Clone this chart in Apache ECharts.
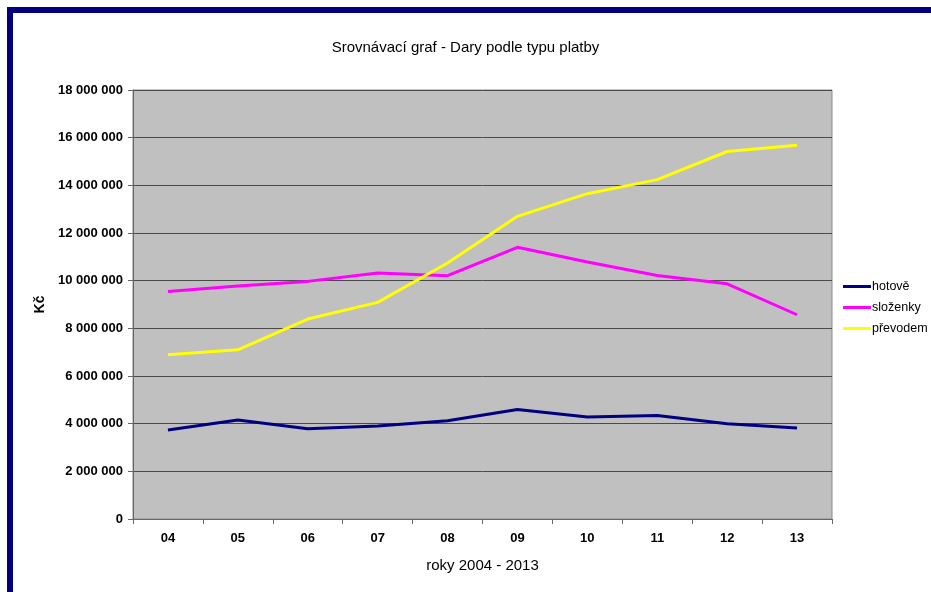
<!DOCTYPE html>
<html>
<head>
<meta charset="utf-8">
<script src="https://cdn.jsdelivr.net/npm/echarts@6/dist/echarts.min.js"></script>
<style>
html,body{margin:0;padding:0;background:#fff;}
#chart{width:931px;height:592px;}
</style>
</head>
<body>
<div id="chart"></div>
<script>
const categories = ['04','05','06','07','08','09','10','11','12','13'];
const hotove = [3730000, 4150000, 3790000, 3900000, 4120000, 4590000, 4280000, 4340000, 4000000, 3820000];
const slozenky = [9550000, 9780000, 9970000, 10320000, 10210000, 11400000, 10780000, 10220000, 9870000, 8570000];
const prevodem = [6890000, 7100000, 8390000, 9090000, 10740000, 12700000, 13650000, 14240000, 15420000, 15680000];
const seriesNames = ['hotově', 'složenky', 'převodem'];
const yTicks = { min: 0, max: 18000000, interval: 2000000 };

const font = '"Liberation Sans", Arial, sans-serif';
const chart = echarts.init(document.getElementById('chart'));
function fmt(v){ return String(v).replace(/\B(?=(\d{3})+(?!\d))/g, ' '); }

chart.setOption({
  animation: false,
  backgroundColor: '#ffffff',
  title: {
    text: 'Srovnávací graf - Dary podle typu platby',
    left: 'center', top: 35,
    textStyle: { fontFamily: font, fontSize: 15, fontWeight: 'normal', color: '#000' }
  },
  legend: {
    orient: 'vertical', left: 838, top: 275,
    icon: 'rect', itemWidth: 28, itemHeight: 3, itemGap: 8,
    data: seriesNames,
    textStyle: { fontFamily: font, fontSize: 12.5, color: '#000', padding: [0,0,0,-4] }
  },
  grid: {
    left: 133, right: 99, top: 90, bottom: 73,
    show: true, backgroundColor: '#c0c0c0', borderColor: '#8a8a8a', borderWidth: 1,
    containLabel: false
  },
  xAxis: {
    type: 'category', data: categories, boundaryGap: true,
    name: 'roky 2004 - 2013', nameLocation: 'middle', nameGap: 39,
    nameTextStyle: { fontFamily: font, fontSize: 15, color: '#000' },
    axisLine: { lineStyle: { color: '#666', width: 1 } },
    axisTick: { show: true, length: 5, lineStyle: { color: '#666' } },
    axisLabel: { fontFamily: font, fontSize: 13, fontWeight: 'bold', color: '#000', margin: 13 },
    splitLine: { show: false }
  },
  yAxis: {
    type: 'value', min: yTicks.min, max: yTicks.max, interval: yTicks.interval,
    name: 'Kč', nameLocation: 'middle', nameGap: 86,
    nameTextStyle: { fontFamily: font, fontSize: 14, fontWeight: 'bold', color: '#000' },
    axisLine: { show: true, lineStyle: { color: '#666', width: 1 } },
    axisTick: { show: true, length: 5, inside: false, lineStyle: { color: '#666' } },
    axisLabel: { fontFamily: font, fontSize: 13, fontWeight: 'bold', color: '#000', margin: 10, formatter: fmt },
    splitLine: { show: true, lineStyle: { color: '#4a4a4a', width: 1 } }
  },
  series: [
    { name: seriesNames[0], type: 'line', data: hotove, symbol: 'none', lineStyle: { color: '#000080', width: 3 }, itemStyle: { color: '#000080' } },
    { name: seriesNames[1], type: 'line', data: slozenky, symbol: 'none', lineStyle: { color: '#ff00ff', width: 3 }, itemStyle: { color: '#ff00ff' } },
    { name: seriesNames[2], type: 'line', data: prevodem, symbol: 'none', lineStyle: { color: '#ffff00', width: 3 }, itemStyle: { color: '#ffff00' } }
  ],
  graphic: [
    { type: 'rect', left: 7, top: 7, shape: { width: 6, height: 585 }, style: { fill: '#000080' }, silent: true },
    { type: 'rect', left: 7, top: 7, shape: { width: 924, height: 6 }, style: { fill: '#000080' }, silent: true }
  ]
});
</script>
</body>
</html>
